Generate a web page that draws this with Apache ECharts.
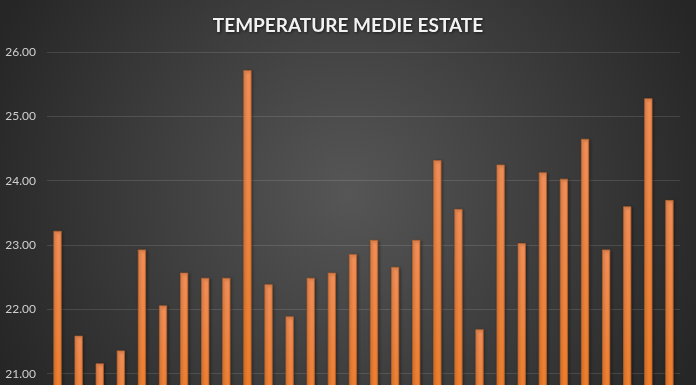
<!DOCTYPE html>
<html>
<head>
<meta charset="utf-8">
<script src="https://cdn.jsdelivr.net/npm/echarts@6/dist/echarts.min.js"></script>
<style>
html,body{margin:0;padding:0;background:#262626;}
#c{width:696px;height:385px;}
</style>
</head>
<body>
<div id="c"></div>
<script>
const titleText = "TEMPERATURE MEDIE ESTATE";
const categories = ["1","2","3","4","5","6","7","8","9","10","11","12","13","14","15","16","17","18","19","20","21","22","23","24","25","26","27","28","29","30"];
const values = [23.22,21.59,21.16,21.36,22.93,22.06,22.57,22.49,22.49,25.72,22.39,21.89,22.49,22.57,22.86,23.08,22.66,23.08,24.32,23.56,21.69,24.25,23.03,24.13,24.03,24.65,22.93,23.60,25.28,23.70];
const yMin = 20, yMax = 26, yInterval = 1;

const chart = echarts.init(document.getElementById('c'), null, {renderer:'canvas'});
chart.setOption({
  animation: false,
  backgroundColor: {
    type: 'radial', x: 0.5, y: 0.5, r: 1.0,
    colorStops: [
      {offset: 0, color: '#565656'},
      {offset: 1, color: '#262626'}
    ]
  },
  title: {
    text: titleText,
    left: 'center',
    top: 11,
    textStyle: {
      color: '#f2f2f2',
      fontFamily: 'Lato',
      fontWeight: 'bold',
      fontSize: 19,
      textShadowColor: 'rgba(0,0,0,0.6)',
      textShadowBlur: 3,
      textShadowOffsetX: 1,
      textShadowOffsetY: 1
    }
  },
  grid: { left: 47, right: 16, top: 52, height: 386, outerBoundsMode: 'none', containLabel: false },
  xAxis: {
    type: 'category',
    data: categories,
    axisLine: {show: false},
    axisTick: {show: false},
    axisLabel: {show: false}
  },
  yAxis: {
    type: 'value',
    min: yMin, max: yMax, interval: yInterval,
    axisLine: {show: false},
    axisTick: {show: false},
    axisLabel: {
      formatter: v => v.toFixed(2),
      color: '#cfcfcf',
      fontFamily: 'Lato',
      fontSize: 12,
      margin: 11
    },
    splitLine: {lineStyle: {color: 'rgba(255,255,255,0.12)', width: 1}}
  },
  series: [{
    type: 'bar',
    data: values,
    barWidth: '39%',
    itemStyle: {
      color: {
        type: 'linear', x: 0, y: 0, x2: 0, y2: 1,
        colorStops: [
          {offset: 0, color: '#f38f58'},
          {offset: 1, color: '#ee7a20'}
        ]
      },
      borderColor: '#b5622c',
      borderWidth: 0.8,
      shadowColor: 'rgba(0,0,0,0.45)',
      shadowBlur: 3,
      shadowOffsetX: 1,
      shadowOffsetY: 1
    }
  }]
});
</script>
</body>
</html>
